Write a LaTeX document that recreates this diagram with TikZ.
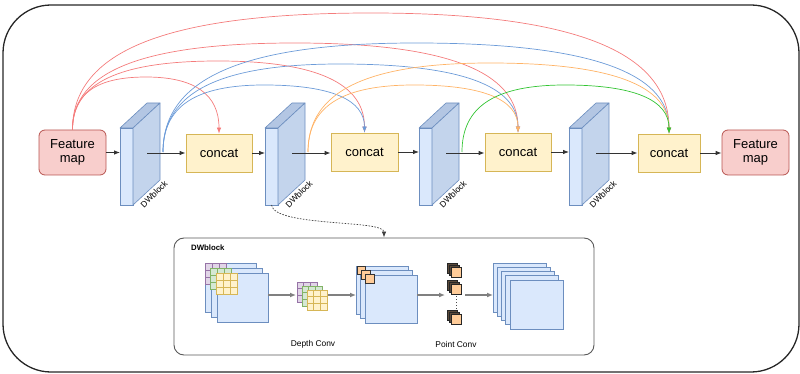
\documentclass[tikz,border=0pt]{standalone}
\usepackage{fontspec}
\setmainfont{Liberation Sans}
\usetikzlibrary{arrows.meta, calc, positioning}

\definecolor{fmfill}{HTML}{F8CECC}
\definecolor{fmline}{HTML}{B85450}
\definecolor{catfill}{HTML}{FFF2CC}
\definecolor{catline}{HTML}{D6B656}
\definecolor{dwfill}{HTML}{DAE8FC}
\definecolor{dwtopc}{HTML}{B3C6E3}
\definecolor{dwsidec}{HTML}{C3D4EC}
\definecolor{dwline}{HTML}{6C8EBF}
\definecolor{redc}{HTML}{F47C7C}
\definecolor{bluec}{HTML}{6C9BD8}
\definecolor{orangec}{HTML}{FFB366}
\definecolor{greenc}{HTML}{33C433}
\definecolor{purpfill}{HTML}{E1D5E7}
\definecolor{purpline}{HTML}{9673A6}
\definecolor{grnfill}{HTML}{D5E8D4}
\definecolor{grnline}{HTML}{82B366}
\definecolor{cubefill}{HTML}{FFCC99}
\definecolor{cubeback}{HTML}{5C4A3A}

\tikzset{
  fmap/.style={draw=fmline, fill=fmfill, rounded corners=6pt, align=center,
    minimum width=67pt, minimum height=45pt, line width=0.8pt,
    font=\fontsize{13}{14.5}\selectfont},
  concat/.style={draw=catline, fill=catfill, minimum width=66pt,
    minimum height=38pt, line width=0.8pt, font=\fontsize{13}{15}\selectfont},
  dwfront/.style={draw=dwline, fill=dwfill, minimum width=13pt,
    minimum height=77pt, inner sep=0pt, outer sep=0pt, line width=0.6pt},
  dwtop/.style={draw=dwline, fill=dwtopc, line width=0.6pt, line join=round},
  dwright/.style={draw=dwline, fill=dwsidec, line width=0.6pt, line join=round},
  dwlabel/.style={rotate=45, inner sep=0pt, font=\fontsize{8.5}{9}\selectfont},
  flow/.style={->, draw=black!80, line width=0.8pt},
  redarc/.style={draw=redc, line width=0.7pt},
  bluearc/.style={draw=bluec, line width=0.7pt},
  orangearc/.style={draw=orangec, line width=0.7pt},
  greenarc/.style={draw=greenc, line width=0.7pt},
  detail/.style={->, draw=black!75, line width=0.7pt, dash pattern=on 1.6pt off 1.4pt},
  dwbox/.style={draw=black!65, rounded corners=10pt, line width=0.9pt,
    minimum width=420pt, minimum height=117pt, inner sep=0pt},
  map/.style={draw=dwline, fill=dwfill, line width=0.8pt, anchor=north west,
    inner sep=0pt, outer sep=0pt},
  kpurple/.style={draw=purpline, fill=purpfill, line width=0.6pt},
  kgreen/.style={draw=grnline, fill=grnfill, line width=0.6pt},
  kyellow/.style={draw=catline, fill=catfill, line width=0.6pt},
  gflow/.style={-{Latex[length=6pt,width=5pt]}, draw=black!50, line width=1.6pt},
  small/.style={font=\fontsize{8.4}{9}\selectfont, inner sep=1pt}
}

\begin{document}
\begin{tikzpicture}[x=1pt, y=-1pt, >={Latex[length=6pt,width=4.5pt]}]
  \useasboundingbox (0,0) rectangle (800,374);
  \draw[draw=black!85, line width=1.3pt, rounded corners=48pt] (3,5) rectangle (799,372);

  % main row
  \node[fmap] (fm1) at (72.5,152.5) {Feature\\map};
  \node[concat] (c1) at (219,153) {concat};
  \node[concat, minimum width=67pt] (c2) at (364.5,152) {concat};
  \node[concat] (c3) at (518,152) {concat};
  \node[concat, minimum width=62pt] (c4) at (669,153) {concat};
  \node[fmap] (fm2) at (755.5,152.5) {Feature\\map};

  \foreach \i/\x in {1/126.5, 2/271.5, 3/425.5, 4/575.5} {
    \node[dwfront] (dw\i) at (\x,166.5) {};
    \filldraw[dwtop] (dw\i.north west) -- ++(27,-25) -- ++(13,0) -- (dw\i.north east) -- cycle;
    \filldraw[dwright] (dw\i.north east) -- ++(27,-25) -- ++(0,77) -- (dw\i.south east) -- cycle;
    \node[dwlabel] (dwl\i) at ($(dw\i.south east)+(21,-11)$) {DWblock};
    \coordinate (dwo\i) at ($(dw\i.east)+(14,-13.5)$);
    \coordinate (dwt\i) at ($(dw\i.east)+(30,-14.5)$);
  }

  \draw[flow] (fm1.east) -- (fm1.east -| dw1.west);
  \foreach \i in {1,...,4}
    \draw[flow] (dwo\i) -- (dwo\i -| c\i.west);
  \foreach \i/\j in {1/2, 2/3, 3/4}
    \draw[flow] (c\i.east) -- (c\i.east -| dw\j.west);
  \draw[flow] (c4.east) -- (c4.east -| fm2.west);

  % skip connections into the concat blocks
  \foreach \src/\dst/\px/\py/\col in {
      fm1.north/c1.north/146/77/redarc, fm1.north/c2.north/218/61/redarc,
      fm1.north/c3.north/295/43/redarc, fm1.north/c4.north/371/13/redarc,
      dwt1/c2.north/264/85/bluearc, dwt1/c3.north/340/64/bluearc,
      dwt1/c4.north/416/43/bluearc,
      dwt2/c3.north/414/85/orangearc, dwt2/c4.north/490/63/orangearc,
      dwt3/c4.north/565/85/greenarc} {
    \coordinate (pk) at (\px,\py);
    \draw[->, \col] (\src) .. controls ($(\src)!.68!(\src |- pk)$) and ($(pk)!.68!(\src |- pk)$) .. (pk)
      .. controls ($(pk)!.68!(\dst |- pk)$) and ($(\dst)!.68!(\dst |- pk)$) .. (\dst);
  }

  % inside of a DWblock
  \node[dwbox] (dwbox) at (384,296.5) {};
  \draw[detail] (dw2.south) .. controls +(3,22) and +(0,-18) .. (dwbox.north);
  \node[small, anchor=west, font=\bfseries\fontsize{7.8}{9}\selectfont] (boxtitle) at (190,248) {DWblock};

  \foreach \i in {0,1,2}
    \node[map, minimum width=51pt, minimum height=49pt] (in\i) at (205+6*\i,263+5*\i) {};
  \foreach \x/\y/\k/\s in {205/263/kpurple/7, 210.5/268/kgreen/7, 216/273/kyellow/7,
      297/282/kpurple/6.67, 302/286/kgreen/6.67, 307/290/kyellow/6.67}
    \filldraw[\k] (\x,\y) rectangle ++(3*\s,3*\s)
      (\x+\s,\y) -- ++(0,3*\s) (\x+2*\s,\y) -- ++(0,3*\s)
      (\x,\y+\s) -- ++(3*\s,0) (\x,\y+2*\s) -- ++(3*\s,0);

  \foreach \i in {0,1,2}
    \node[map, minimum width=52pt, minimum height=48pt] (mid\i) at (356+4.5*\i,266+4.5*\i) {};
  \foreach \i in {0,1,2}
    \filldraw[draw=black!80, fill=cubefill, line width=0.6pt]
      (357+4.3*\i,266+4.3*\i) rectangle ++(8.5,8.5);

  \foreach \y in {263,280,310} {
    \filldraw[draw=black!85, fill=cubeback, line width=0.5pt] (447,\y) rectangle ++(10,10);
    \filldraw[draw=black!85, fill=cubeback, line width=0.5pt] (449,\y+2) rectangle ++(10,10);
    \filldraw[draw=black!85, fill=cubefill, line width=0.5pt] (451,\y+4) rectangle ++(10,10);
  }
  \draw[black!70, line width=0.9pt, dash pattern=on 0.9pt off 2.2pt] (456,296) -- (456,309);

  \foreach \i in {0,...,4}
    \node[map, minimum width=53pt, minimum height=49pt] (out\i) at (493+4.25*\i,263+4.25*\i) {};

  \coordinate (row) at (0,295);
  \coordinate (dkw) at (296,295);
  \coordinate (dke) at (328,295);
  \coordinate (pcw) at (445,295);
  \coordinate (pce) at (465,295);
  \draw[gflow] (in2.east |- row) -- (dkw);
  \draw[gflow] (dke) -- (dke -| mid0.west);
  \draw[gflow] (mid2.east |- row) -- (pcw);
  \draw[gflow] (pce) -- (pce -| out0.west);

  \node[small] (dclabel) at (313,344) {Depth Conv};
  \node[small] (pclabel) at (456,344) {Point Conv};
\end{tikzpicture}
\end{document}
